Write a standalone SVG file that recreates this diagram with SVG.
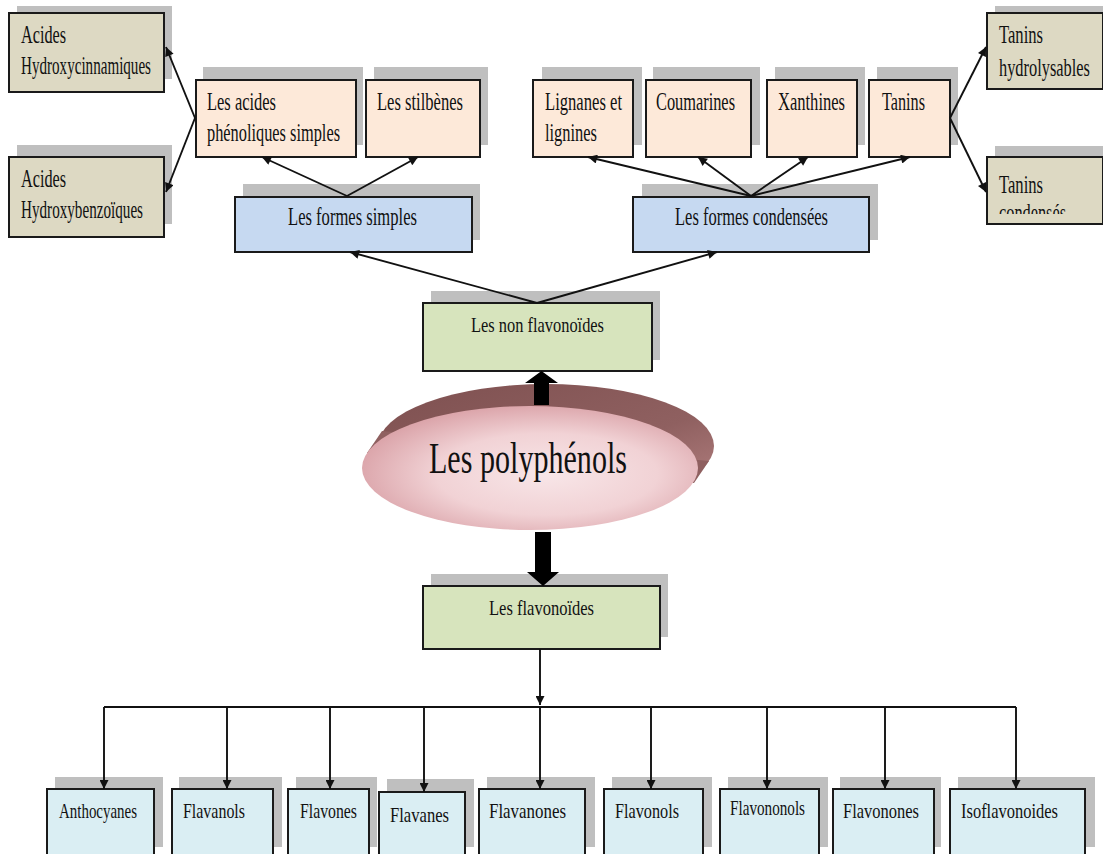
<svg xmlns="http://www.w3.org/2000/svg" width="1103" height="854" viewBox="0 0 1103 854">
<style>
.box{stroke:#1a1a1a;stroke-width:2}
.sh{fill:#bfbfbf}
.tan{fill:#ddd9c3}
.peach{fill:#fde9d9}
.blue{fill:#c6d9f1}
.green{fill:#d7e4bd}
.lb{fill:#daeef3}
text{font-family:"Liberation Serif","Times New Roman",serif;fill:#111;font-size:25px}
.m{font-size:22px}
.b{font-size:22px}
.con line{stroke:#111;stroke-width:1.9;fill:none}
.thick{fill:#000;stroke:none}
</style>
<defs>
<marker id="ah" viewBox="0 0 10 10" refX="10" refY="5" markerWidth="10" markerHeight="9" markerUnits="userSpaceOnUse" orient="auto"><path d="M0,0 L10,5 L0,10 z" fill="#111"/></marker>
<linearGradient id="dark" x1="0" y1="0" x2="1" y2="1">
<stop offset="0" stop-color="#7e5050"/>
<stop offset="0.6" stop-color="#8f6060"/>
<stop offset="1" stop-color="#b88484"/>
</linearGradient>
<radialGradient id="pink" cx="0.55" cy="0.55" r="0.6">
<stop offset="0" stop-color="#f8e6e8"/>
<stop offset="0.55" stop-color="#f1d2d5"/>
<stop offset="1" stop-color="#d89ea4"/>
</radialGradient>
<clipPath id="clipc"><rect x="988" y="157" width="115" height="57"/></clipPath>
</defs>

<g id="acides-hc">
<rect class="sh" x="17" y="6" width="155" height="73"/>
<rect class="box tan" x="9" y="13" width="155" height="79"/>
<text x="21" y="43" textLength="45" lengthAdjust="spacingAndGlyphs">Acides</text>
<text x="21" y="74" textLength="130" lengthAdjust="spacingAndGlyphs">Hydroxycinnamiques</text>
</g>
<g id="acides-hb">
<rect class="sh" x="17" y="145" width="155" height="79"/>
<rect class="box tan" x="9" y="157" width="155" height="80"/>
<text x="21" y="187" textLength="45" lengthAdjust="spacingAndGlyphs">Acides</text>
<text x="21" y="218" textLength="122" lengthAdjust="spacingAndGlyphs">Hydroxybenzoïques</text>
</g>
<g id="phenoliques">
<rect class="sh" x="203" y="67" width="160" height="78"/>
<rect class="box peach" x="196" y="80" width="160" height="77"/>
<text x="207" y="110" textLength="69" lengthAdjust="spacingAndGlyphs">Les acides</text>
<text x="207" y="141" textLength="133" lengthAdjust="spacingAndGlyphs">phénoliques simples</text>
</g>
<g id="stilbenes">
<rect class="sh" x="374" y="67" width="114" height="78"/>
<rect class="box peach" x="366" y="80" width="114" height="77"/>
<text x="377" y="110" textLength="86" lengthAdjust="spacingAndGlyphs">Les stilbènes</text>
</g>
<g id="formes-simples">
<rect class="sh" x="243" y="184" width="237" height="56"/>
<rect class="box blue" x="235" y="197" width="237" height="55"/>
<text x="288" y="225" textLength="129" lengthAdjust="spacingAndGlyphs">Les formes simples</text>
</g>
<g id="lignanes">
<rect class="sh" x="542" y="67" width="100" height="78"/>
<rect class="box peach" x="533" y="80" width="100" height="77"/>
<text x="545" y="110" textLength="77" lengthAdjust="spacingAndGlyphs">Lignanes et</text>
<text x="545" y="141" textLength="52" lengthAdjust="spacingAndGlyphs">lignines</text>
</g>
<g id="coumarines">
<rect class="sh" x="653" y="67" width="107" height="78"/>
<rect class="box peach" x="646" y="80" width="105" height="77"/>
<text x="656" y="110" textLength="79" lengthAdjust="spacingAndGlyphs">Coumarines</text>
</g>
<g id="xanthines">
<rect class="sh" x="775" y="67" width="90" height="78"/>
<rect class="box peach" x="767" y="80" width="90" height="77"/>
<text x="778" y="110" textLength="67" lengthAdjust="spacingAndGlyphs">Xanthines</text>
</g>
<g id="tanins">
<rect class="sh" x="877" y="67" width="81" height="78"/>
<rect class="box peach" x="869" y="80" width="81" height="77"/>
<text x="882" y="110" textLength="43" lengthAdjust="spacingAndGlyphs">Tanins</text>
</g>
<g id="formes-condensees">
<rect class="sh" x="642" y="184" width="236" height="56"/>
<rect class="box blue" x="633" y="197" width="236" height="55"/>
<text x="675" y="225" textLength="153" lengthAdjust="spacingAndGlyphs">Les formes condensées</text>
</g>
<g id="tanins-hydro">
<rect class="sh" x="995" y="6" width="108" height="73"/>
<rect class="box tan" x="987" y="13" width="116" height="76"/>
<text x="999" y="43" textLength="44" lengthAdjust="spacingAndGlyphs">Tanins</text>
<text transform="translate(999,76) scale(0.655,1)">hydrolysables</text>
</g>
<g id="tanins-cond">
<rect class="sh" x="995" y="146" width="108" height="70"/>
<rect class="box tan" x="987" y="157" width="116" height="67"/>
<text x="999" y="193" textLength="44" lengthAdjust="spacingAndGlyphs">Tanins</text>
<text x="999" y="221" textLength="67" lengthAdjust="spacingAndGlyphs" clip-path="url(#clipc)">condensés</text>
</g>
<g id="non-flavonoides">
<rect class="sh" x="431" y="291" width="229" height="69"/>
<rect class="box green" x="423" y="303" width="229" height="68"/>
<text class="m" x="471" y="332" textLength="133" lengthAdjust="spacingAndGlyphs">Les non flavonoïdes</text>
</g>
<g id="polyphenols">
<ellipse cx="546" cy="446" rx="168" ry="62" fill="url(#dark)"/>
<polygon points="367,453 382,431 709,461 694,483" fill="#8f6060"/>
<ellipse cx="530" cy="468" rx="168" ry="62" fill="url(#pink)"/>
<text x="429" y="473" style="font-size:45px" textLength="198" lengthAdjust="spacingAndGlyphs">Les polyphénols</text>
</g>
<g id="flavonoides">
<rect class="sh" x="431" y="574" width="237" height="63"/>
<rect class="box green" x="423" y="586" width="237" height="63"/>
<text class="m" x="489" y="615" textLength="105" lengthAdjust="spacingAndGlyphs">Les flavonoïdes</text>
</g>

<g id="anthocyanes">
<rect class="sh" x="55" y="777" width="108" height="70"/>
<rect class="box lb" x="47" y="789" width="107" height="80"/>
<text class="b" x="59" y="818" textLength="78" lengthAdjust="spacingAndGlyphs">Anthocyanes</text>
</g>
<g id="flavanols">
<rect class="sh" x="179" y="777" width="103" height="70"/>
<rect class="box lb" x="172" y="789" width="101" height="80"/>
<text class="b" x="183" y="818" textLength="62" lengthAdjust="spacingAndGlyphs">Flavanols</text>
</g>
<g id="flavones">
<rect class="sh" x="296" y="777" width="81" height="70"/>
<rect class="box lb" x="288" y="789" width="81" height="80"/>
<text class="b" x="300" y="818" textLength="57" lengthAdjust="spacingAndGlyphs">Flavones</text>
</g>
<g id="flavanes">
<rect class="sh" x="387" y="779" width="87" height="68"/>
<rect class="box lb" x="379" y="792" width="86" height="80"/>
<text class="b" x="390" y="822" textLength="59" lengthAdjust="spacingAndGlyphs">Flavanes</text>
</g>
<g id="flavanones">
<rect class="sh" x="487" y="777" width="108" height="70"/>
<rect class="box lb" x="479" y="789" width="106" height="80"/>
<text class="b" x="489" y="818" textLength="77" lengthAdjust="spacingAndGlyphs">Flavanones</text>
</g>
<g id="flavonols">
<rect class="sh" x="612" y="777" width="100" height="70"/>
<rect class="box lb" x="604" y="789" width="99" height="80"/>
<text class="b" x="615" y="818" textLength="64" lengthAdjust="spacingAndGlyphs">Flavonols</text>
</g>
<g id="flavononols">
<rect class="sh" x="728" y="777" width="100" height="70"/>
<rect class="box lb" x="720" y="789" width="99" height="80"/>
<text class="b" x="730" y="815" textLength="75" lengthAdjust="spacingAndGlyphs">Flavononols</text>
</g>
<g id="flavonones">
<rect class="sh" x="840" y="777" width="101" height="70"/>
<rect class="box lb" x="833" y="789" width="101" height="80"/>
<text class="b" x="843" y="818" textLength="76" lengthAdjust="spacingAndGlyphs">Flavonones</text>
</g>
<g id="isoflavonoides">
<rect class="sh" x="958" y="777" width="137" height="70"/>
<rect class="box lb" x="950" y="789" width="135" height="80"/>
<text class="b" x="961" y="818" textLength="97" lengthAdjust="spacingAndGlyphs">Isoflavonoides</text>
</g>

<g id="connectors" class="con">
<line x1="537" y1="303" x2="350" y2="252" marker-end="url(#ah)"/>
<line x1="537" y1="303" x2="717" y2="252" marker-end="url(#ah)"/>
<line x1="347" y1="196" x2="262" y2="157" marker-end="url(#ah)"/>
<line x1="347" y1="196" x2="418" y2="157" marker-end="url(#ah)"/>
<line x1="751" y1="196" x2="588" y2="157" marker-end="url(#ah)"/>
<line x1="751" y1="196" x2="698" y2="157" marker-end="url(#ah)"/>
<line x1="751" y1="196" x2="808" y2="157" marker-end="url(#ah)"/>
<line x1="751" y1="196" x2="910" y2="157" marker-end="url(#ah)"/>
<line x1="195" y1="118" x2="166" y2="47" marker-end="url(#ah)"/>
<line x1="195" y1="118" x2="166" y2="192" marker-end="url(#ah)"/>
<line x1="950" y1="118" x2="986" y2="47" marker-end="url(#ah)"/>
<line x1="950" y1="118" x2="986" y2="192" marker-end="url(#ah)"/>
<path class="thick" d="M534,405 V383 H525 L541.5,371 L558,383 H549 V405 Z"/>
<path class="thick" d="M535,532 V572 H527 L543,586 L559,572 H551 V532 Z"/>
<line x1="540" y1="649" x2="540" y2="705" marker-end="url(#ah)"/>
<line x1="104" y1="707" x2="1016" y2="707"/>
<line x1="104" y1="707" x2="104" y2="789" marker-end="url(#ah)"/>
<line x1="227" y1="707" x2="227" y2="789" marker-end="url(#ah)"/>
<line x1="330" y1="707" x2="330" y2="789" marker-end="url(#ah)"/>
<line x1="424" y1="707" x2="424" y2="792" marker-end="url(#ah)"/>
<line x1="540" y1="707" x2="540" y2="789" marker-end="url(#ah)"/>
<line x1="651" y1="707" x2="651" y2="789" marker-end="url(#ah)"/>
<line x1="767" y1="707" x2="767" y2="789" marker-end="url(#ah)"/>
<line x1="885" y1="707" x2="885" y2="789" marker-end="url(#ah)"/>
<line x1="1016" y1="707" x2="1016" y2="789" marker-end="url(#ah)"/>
</g>
</svg>
